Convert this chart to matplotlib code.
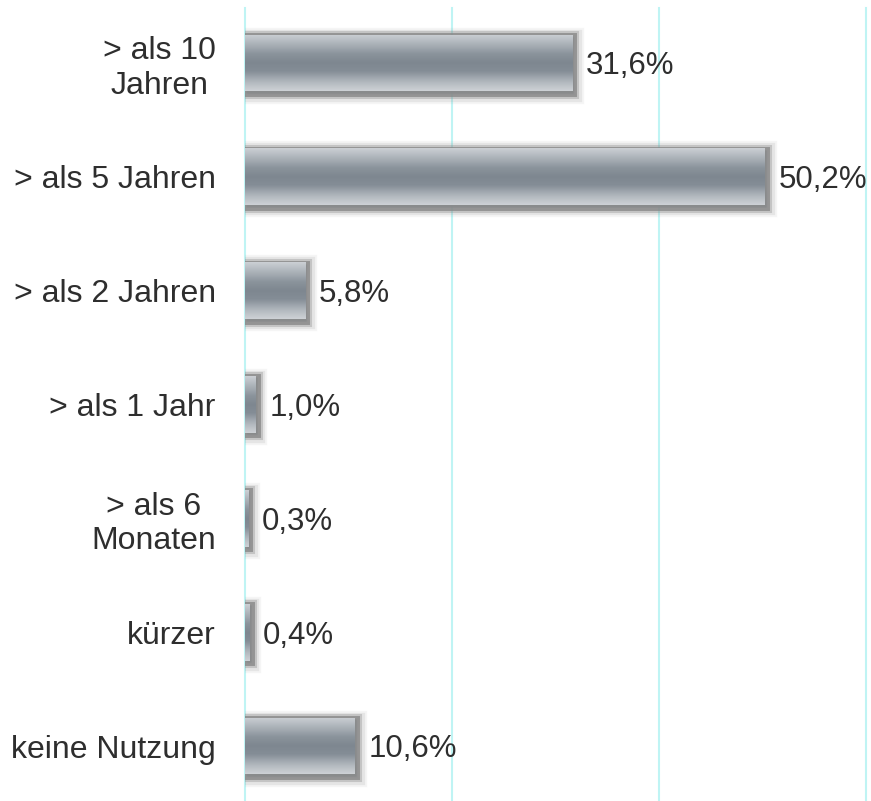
import numpy as np
import matplotlib.pyplot as plt
import matplotlib.patheffects as pe
from matplotlib.colors import LinearSegmentedColormap

plt.rcParams['font.family'] = ['Liberation Sans', 'DejaVu Sans']

categories = ['> als 10\nJahren', '> als 5 Jahren', '> als 2 Jahren', '> als 1 Jahr',
              '> als 6\nMonaten', 'kürzer', 'keine Nutzung']
values = [31.6, 50.2, 5.8, 1.0, 0.3, 0.4, 10.6]
grid_ticks = [0, 20, 40, 60]

fig = plt.figure(figsize=(8.71, 8.01), dpi=100)
ax = fig.add_axes([245 / 871, 0, 621 / 871, 793 / 801])

# vertical gradient of the bars (light edges, dark middle)
bar_cmap = LinearSegmentedColormap.from_list('bar', [
    (0.0, '#cbcfd4'), (0.12, '#b4bac0'), (0.35, '#8a939b'), (0.5, '#7e8790'),
    (0.65, '#848d96'), (0.85, '#b2b8be'), (1.0, '#cdd1d5')])
grad = np.linspace(0, 1, 64).reshape(-1, 1)

# soft shadow round the bars
shadow = [pe.Stroke(linewidth=14, foreground='#8a8a8a', alpha=0.08, offset=(1.5, -1.5)),
          pe.Stroke(linewidth=11, foreground='#8a8a8a', alpha=0.14, offset=(1.5, -1.5)),
          pe.Stroke(linewidth=8, foreground='#888888', alpha=0.35, offset=(1, -1)),
          pe.Stroke(linewidth=5, foreground='#888888', alpha=0.8, offset=(1, -1)),
          pe.Normal()]

y = np.arange(len(categories))
h = 0.5
bars = ax.barh(y, values, height=h, color='#8a939b', edgecolor='none', zorder=2)
for b in bars:
    b.set_path_effects(shadow)
    x0, y0 = b.get_x(), b.get_y()
    im = ax.imshow(grad, extent=[x0, x0 + b.get_width(), y0 + h, y0], aspect='auto',
                   cmap=bar_cmap, origin='upper', zorder=3, interpolation='bilinear')
    im.set_clip_path(b)

for yi, v in zip(y, values):
    ax.annotate(f'{v:.1f}'.replace('.', ',') + '%', xy=(v, yi), xytext=(10, -2.5),
                textcoords='offset points', va='center', ha='left',
                fontsize=22.5, color='#2e2e2e')

for t in grid_ticks:
    ax.axvline(t, color='#bff4f4', linewidth=1.5, zorder=0, clip_on=False)

ax.set_xlim(0, 60)
ax.set_ylim(6.483, -0.483)
ax.set_yticks(y)
ax.set_yticklabels(categories, fontsize=23, color='#2e2e2e')
for lab in ax.get_yticklabels():
    lab.set_multialignment('center')
ax.set_xticks([])
ax.tick_params(axis='y', length=0, pad=21)
for s in ax.spines.values():
    s.set_visible(False)

plt.savefig('out.png', dpi=100)
plt.close()
